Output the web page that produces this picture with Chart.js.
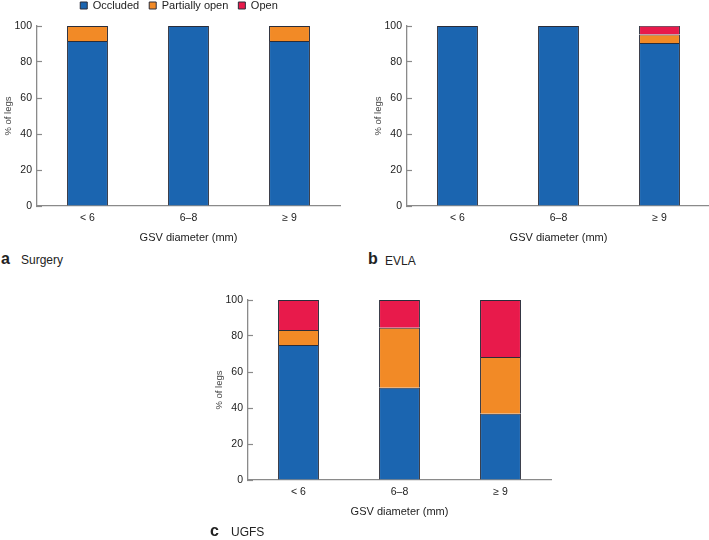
<!DOCTYPE html>
<html>
<head>
<meta charset="utf-8">
<script src="https://cdn.jsdelivr.net/npm/chart.js@4"></script>
<style>
  html, body { margin: 0; padding: 0; background: #fff; overflow: hidden; }
  body { width: 709px; height: 540px; position: relative; font-family: 'Liberation Sans', Arial, sans-serif; color: #222; }
  canvas { position: absolute; }
  .tag { position: absolute; font-size: 16px; font-weight: bold; line-height: 16px; }
  .name { position: absolute; font-size: 12px; line-height: 12px; }
</style>
</head>
<body>
<canvas id="chartA" width="345" height="250" style="left:0px;top:0px"></canvas>
<canvas id="chartB" width="345" height="250" style="left:370px;top:0px"></canvas>
<canvas id="chartC" width="345" height="250" style="left:211px;top:274px"></canvas>

<div class="tag" style="left:1px;top:251px">a</div><div class="name" style="left:21px;top:254px">Surgery</div>
<div class="tag" style="left:368px;top:251px">b</div><div class="name" style="left:385px;top:255px">EVLA</div>
<div class="tag" style="left:210px;top:523px">c</div><div class="name" style="left:231px;top:526px">UGFS</div>

<script>
// categories and series (percent of legs)
const categories = ['< 6', '6–8', '≥ 9'];
const seriesNames = ['Occluded', 'Partially open', 'Open'];

const surgeryOccluded = [91.7, 100, 91.7];
const surgeryPartial = [8.3, 0, 8.3];
const surgeryOpen = [0, 0, 0];

const evlaOccluded = [100, 100, 90.5];
const evlaPartial = [0, 0, 4.8];
const evlaOpen = [0, 0, 4.8];

const ugfsOccluded = [75, 51.3, 36.8];
const ugfsPartial = [8.3, 33.3, 31.6];
const ugfsOpen = [16.7, 15.4, 31.6];

const yTicks = [0, 20, 40, 60, 80, 100];

const colors = ['#1b65b0', '#f28a26', '#e81a4b'];

Chart.defaults.font.family = "'Liberation Sans', Arial, sans-serif";
Chart.defaults.color = '#222';

// shift the legend so it sits where the original one does
const legendShift = {
  id: 'legendShift',
  afterLayout(chart) {
    if (!chart.legend) return;
    chart.legend.left += 9;
    chart.legend.right += 9;
    chart.legend.top -= 5;
    chart.legend.bottom -= 5;
  }
};

function makeChart(id, occluded, partial, open, showLegend) {
  const ctx = document.getElementById(id).getContext('2d');
  const data = [occluded, partial, open];
  return new Chart(ctx, {
    type: 'bar',
    data: {
      labels: categories,
      datasets: seriesNames.map((name, i) => ({
        label: name,
        data: data[i],
        backgroundColor: colors[i],
        borderColor: '#2a2d3a',
        borderWidth: 1,
        barPercentage: 0.405,
        categoryPercentage: 1
      }))
    },
    options: {
      responsive: false,
      animation: false,
      devicePixelRatio: 1,
      layout: { padding: { left: 0, right: 5, top: showLegend ? -5 : 26, bottom: 4 } },
      plugins: {
        legend: {
          display: showLegend,
          labels: { boxWidth: 7, boxHeight: 7, padding: 10, font: { size: 11 }, color: '#222' }
        },
        tooltip: { enabled: false }
      },
      scales: {
        x: {
          stacked: true,
          grid: { display: false, drawTicks: false },
          border: { display: true, color: '#8a8a8a', width: 1.3 },
          ticks: { padding: 6, font: { size: 10.5 }, color: '#222' },
          title: { display: true, text: 'GSV diameter (mm)', font: { size: 11 }, color: '#222', padding: { top: 0, bottom: 1 } },
          afterFit(scale) { scale.height = 40; }
        },
        y: {
          stacked: true,
          min: 0,
          max: 100,
          afterBuildTicks(scale) { scale.ticks = yTicks.map(v => ({ value: v })); },
          grid: { drawOnChartArea: false, drawTicks: true, tickLength: -5, tickColor: '#8a8a8a', tickWidth: 1.2 },
          border: { display: true, color: '#8a8a8a', width: 1.3 },
          ticks: { padding: 10, font: { size: 10.5 }, color: '#222' },
          title: { display: true, text: '% of legs', font: { size: 9.5 }, color: '#444', padding: { top: 3, bottom: 0 } },
          afterFit(scale) { scale.width = 37; }
        }
      }
    },
    plugins: showLegend ? [legendShift] : []
  });
}

makeChart('chartA', surgeryOccluded, surgeryPartial, surgeryOpen, true);
makeChart('chartB', evlaOccluded, evlaPartial, evlaOpen, false);
makeChart('chartC', ugfsOccluded, ugfsPartial, ugfsOpen, false);
</script>
</body>
</html>
